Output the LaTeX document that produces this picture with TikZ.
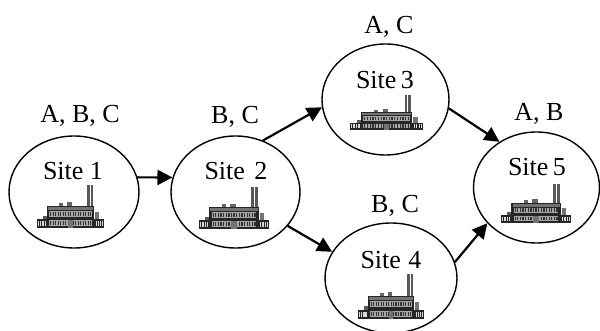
\documentclass[tikz,border=0pt]{standalone}
\usepackage{fontspec}
\setmainfont{Liberation Serif}
\usepackage{tikz}
\usetikzlibrary{shapes.geometric,arrows.meta}
\tikzset{
  site/.style={ellipse,draw,line width=1.4pt,inner sep=0pt},
  goods/.style={font=\fontsize{26}{28}\selectfont,inner sep=0pt},
  flow/.style={line width=2.2pt,-{Triangle[length=15pt,width=15pt]}},
  factory/.pic={
    % chimneys
    \fill[black!65] (50,-43) rectangle (52.5,-21);
    \fill[black!65] (53.5,-43) rectangle (56,-21);
    \fill[black!55] (58,-16) rectangle (62,-8);
    \fill[black!65] (6,-12) rectangle (10,-8);
    % roof parts
    \fill[black!60] (22,-25) rectangle (26,-21);
    \fill[black!60] (30,-26) rectangle (35,-21);
    % wings
    \fill[black!85] (0,-9) rectangle (67,0);
    \foreach \i in {1,3.2,5.4,7.6,58.5,60.7,62.9,65.1}
      \fill[black!15] (\i,-7) rectangle ++(1.2,5);
    % main block
    \fill[black!85] (10,-22) rectangle (57,0);
    \fill[black!55] (11,-21) rectangle (56,-18);
    \fill[black!35] (12,-17) rectangle (55,-11);
    \fill[black!35] (12,-8) rectangle (55,-2);
    \foreach \i in {13,15.5,...,54}{
      \fill[black!80] (\i,-16) rectangle ++(1.2,4);
      \fill[black!80] (\i,-7) rectangle ++(1.2,4);
    }
    \fill[black!55] (31,-8) rectangle (36,0);
  }
}
\begin{document}
\begin{tikzpicture}[x=1pt,y=-1pt]
\useasboundingbox (0,0) rectangle (600,331);
\node [site,minimum width=130pt,minimum height=112pt] (s1) at (74,192) {};
\node [site,minimum width=129pt,minimum height=112pt] (s2) at (235.5,192) {};
\node [site,minimum width=127pt,minimum height=111pt] (s3) at (385.5,99.5) {};
\node [site,minimum width=132pt,minimum height=110pt] (s4) at (391,278) {};
\node [site,minimum width=126pt,minimum height=111pt] (s5) at (536.5,187.5) {};
\node [goods] (t1) at (73,171) {Site 1};
\node [goods] (t2) at (236,171) {Site\kern9.5pt 2};
\node [goods] (t3) at (385,80) {Site\kern4.5pt 3};
\node [goods] (t4) at (391,260) {Site\kern7.5pt 4};
\node [goods] (t5) at (537,167) {Site\kern4.5pt 5};
\node [goods] (p1) at (80,116) {A, B, C};
\node [goods] (p2) at (235,117) {B, C};
\node [goods] (p3) at (389,27) {A, C};
\node [goods] (p4) at (395,206) {B, C};
\node [goods] (p5) at (539,114) {A, B};
\pic at (37,228) {factory};
\pic [xscale=1.045,yscale=.98] at (199,229) {factory};
\pic [xscale=1.09,yscale=.81] at (350,130) {factory};
\pic [xscale=.985,yscale=1.05] at (358,319) {factory};
\pic [xscale=1.045,yscale=.91] at (501,223) {factory};
\draw [flow] (s1.13) -- (s2.167);
\draw [flow] (s2.62) -- (s3.187);
\draw [flow] (s2.-33) -- (s4.156);
\draw [flow] (s3.-8) -- (s5.129);
\draw [flow] (s4.14) -- (s5.216);
\end{tikzpicture}
\end{document}
